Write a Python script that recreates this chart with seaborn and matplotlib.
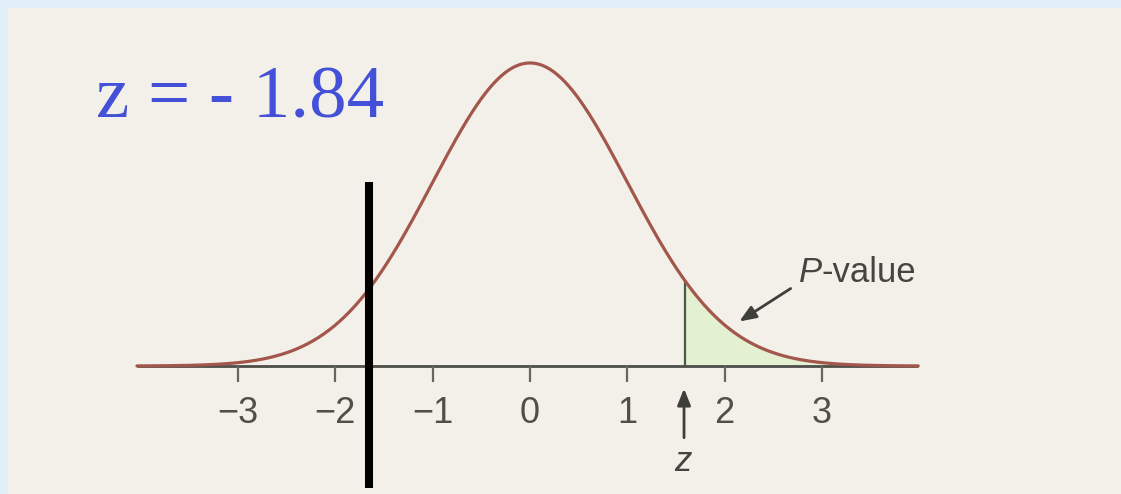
import numpy as np
import matplotlib
matplotlib.use("Agg")
import matplotlib.pyplot as plt
import seaborn as sns
from matplotlib.patches import Rectangle

# Standard normal curve parameters
mean = 0.0
sd = 1.0
z_left = -4.04
z_right = 3.99

# Observed statistic / critical markers
z_stat = 1.59          # where the P-value shading starts
z_marker = -1.655      # thick black line
title_text = "z = - 1.84"

# Axis ticks
tick_values = [-3, -2, -1, 0, 1, 2, 3]
tick_labels = ["\u22123", "\u22122", "\u22121", "0", "1", "2", "3"]

z = np.linspace(z_left, z_right, 600)
pdf = np.exp(-0.5 * ((z - mean) / sd) ** 2) / (sd * np.sqrt(2 * np.pi))

sns.set_style("white")
plt.rcParams["font.family"] = ["Liberation Sans", "DejaVu Sans"]

fig = plt.figure(figsize=(11.21, 4.94), dpi=100)
fig.patch.set_facecolor("#e3eefb")
fig.patches.append(Rectangle((8 / 1121, 0), 1 - 8 / 1121, 486 / 494,
                             transform=fig.transFigure, facecolor="#f3f0e9",
                             edgecolor="none", zorder=-1))

ax = fig.add_axes([8 / 1121, 0, 1 - 8 / 1121, 486 / 494])
ax.set_facecolor("none")
ax.set_xlim(-5.365, 6.074)
ax.set_ylim(-0.1685, 0.4713)
ax.axis("off")

# shaded tail
mask = z >= z_stat
ax.fill_between(z[mask], 0, pdf[mask], color="#e4f0d2", zorder=1)
ax.vlines(z_stat, 0, np.interp(z_stat, z, pdf), color="#4a5a48", lw=1.6, zorder=2)

# baseline and ticks
ax.hlines(0, z_left, z_right, color="#4e4e48", lw=2.0, zorder=2)
ax.vlines(tick_values, -0.0205, 0, color="#666660", lw=1.6, zorder=2)
for v, lab in zip(tick_values, tick_labels):
    ax.text(v, -0.0625, lab, ha="center", va="center", fontsize=26, color="#505049")

# normal curve
sns.lineplot(x=z, y=pdf, ax=ax, color="#a3574c", lw=2.3, zorder=3)

# P-value label with arrow
ax.text(3.0, 0.1106, "P", ha="right", va="baseline", fontsize=25,
        style="italic", color="#45453f")
ax.text(3.0, 0.1106, "-value", ha="left", va="baseline", fontsize=25,
        color="#45453f")
ax.annotate("", xy=(2.127, 0.0566), xytext=(2.703, 0.1040),
            arrowprops=dict(arrowstyle="-|>,head_length=1.0,head_width=0.4",
                            color="#3f3f3a", lw=2.0))

# z label with arrow
ax.annotate("", xy=(1.583, -0.026), xytext=(1.583, -0.098),
            arrowprops=dict(arrowstyle="-|>,head_length=1.0,head_width=0.4",
                            color="#3f3f3a", lw=2.0))
ax.text(1.573, -0.126, "z", ha="center", va="center", fontsize=25,
        style="italic", color="#45453f")

# thick black marker line
ax.vlines(z_marker, -0.1606, 0.2422, color="black", lw=5.8, zorder=4)

# big title-like annotation
ax.text(-4.46, 0.3265, title_text, ha="left", va="baseline", fontsize=54,
        family="Liberation Serif", color="#4450d8")

fig.savefig("out.png", dpi=100, facecolor=fig.get_facecolor())
